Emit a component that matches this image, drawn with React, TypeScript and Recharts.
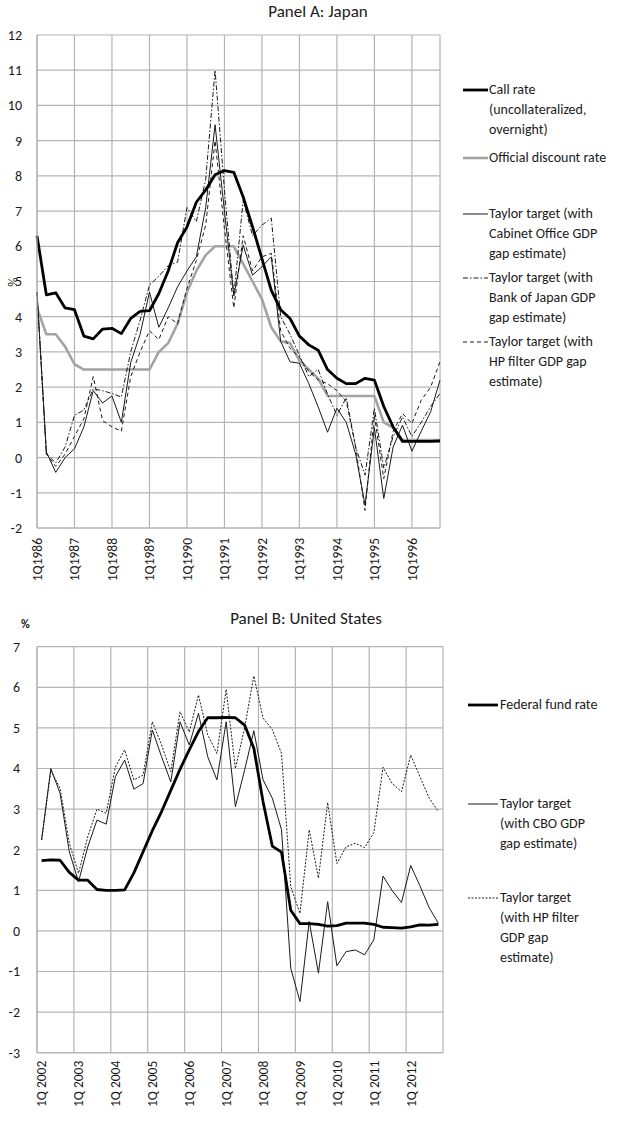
import { CartesianGrid, Line, LineChart, XAxis, YAxis } from "recharts";

// Panel A: Japan, quarterly 1Q1986 - 4Q1996
const jpYears = ["1986", "1987", "1988", "1989", "1990", "1991", "1992", "1993", "1994", "1995", "1996"];
const jpValueTicks = [-2, -1, 0, 1, 2, 3, 4, 5, 6, 7, 8, 9, 10, 11, 12];

const jpCallRate = [
  6.3, 4.62, 4.68, 4.25, 4.2, 3.45, 3.37, 3.65, 3.67, 3.52,
  3.95, 4.15, 4.17, 4.66, 5.3, 6.1, 6.55, 7.25, 7.6, 8.03,
  8.15, 8.1, 7.4, 6.55, 5.65, 4.75, 4.2, 3.95, 3.45, 3.2,
  3.05, 2.5, 2.25, 2.1, 2.1, 2.25, 2.2, 1.45, 0.87, 0.46,
  0.46, 0.46, 0.46, 0.47,
];
const jpDiscountRate = [
  4.25, 3.5, 3.5, 3.15, 2.65, 2.5, 2.5, 2.5, 2.5, 2.5,
  2.5, 2.5, 2.5, 3.0, 3.25, 3.8, 4.7, 5.3, 5.75, 6.0,
  6.0, 6.0, 5.5, 5.0, 4.5, 3.7, 3.3, 3.25, 2.75, 2.5,
  2.25, 1.75, 1.75, 1.75, 1.75, 1.75, 1.75, 1.0, 0.85, 0.5,
  0.5, 0.5, 0.5, 0.5,
];
const jpTaylorCabinet = [
  4.7, 0.16, -0.42, 0.0, 0.25, 0.87, 1.9, 1.55, 1.75, 1.0,
  2.7, 3.5, 4.7, 3.7, 4.25, 4.85, 5.3, 5.7, 7.1, 9.45,
  7.0, 4.6, 6.03, 5.18, 5.42, 5.7, 3.3, 2.72, 2.68, 2.1,
  1.44, 0.72, 1.4, 1.0, 0.1, -1.35, 0.85, -1.16, 0.3, 0.92,
  0.18, 0.75, 1.3, 2.2,
];
const jpTaylorBoj = [
  4.7, 0.1, -0.15, 0.3, 1.2, 1.35, 1.95, 1.9, 1.82, 1.72,
  3.0, 3.9, 4.9, 5.15, 5.45, 5.55, 7.1, 6.7, 7.9, 11.0,
  7.6, 4.6, 7.3, 6.3, 6.6, 6.8, 4.0, 3.5, 2.9, 2.3,
  2.5, 1.8, 1.2, 1.7, 0.3, -0.5, 1.4, -0.3, 0.6, 1.15,
  0.6, 1.0, 1.45, 1.82,
];
const jpTaylorHp = [
  4.7, 0.1, -0.25, 0.1, 0.6, 1.1, 2.3, 1.05, 0.87, 0.75,
  2.3, 3.0, 3.6, 3.35, 4.0, 3.8, 4.8, 5.6, 6.6, 9.0,
  6.5, 4.25, 6.3, 5.3, 5.7, 5.8, 3.6, 3.1, 2.85, 2.45,
  2.2, 2.1, 1.9, 1.6, 0.3, -1.5, 1.2, -0.6, 0.75, 1.25,
  0.97, 1.63, 2.0, 2.72,
];

// Panel B: United States, quarterly 1Q2002 - 4Q2012
const usYears = ["2002", "2003", "2004", "2005", "2006", "2007", "2008", "2009", "2010", "2011", "2012"];
const usValueTicks = [-3, -2, -1, 0, 1, 2, 3, 4, 5, 6, 7];

const usFedFunds = [
  1.73, 1.75, 1.74, 1.44, 1.25, 1.25, 1.02, 1.0, 1.0, 1.01,
  1.43, 1.95, 2.47, 2.94, 3.46, 3.98, 4.46, 4.91, 5.25, 5.25,
  5.26, 5.25, 5.07, 4.5, 3.18, 2.09, 1.94, 0.51, 0.18, 0.18,
  0.16, 0.12, 0.13, 0.19, 0.19, 0.19, 0.16, 0.09, 0.08, 0.07,
  0.1, 0.15, 0.14, 0.16,
];
const usTaylorCbo = [
  2.24, 4.0, 3.39, 1.95, 1.21, 2.07, 2.73, 2.63, 3.8, 4.21,
  3.49, 3.63, 4.95, 4.29, 3.67, 5.15, 4.58, 5.36, 4.29, 3.72,
  5.15, 3.06, 3.96, 4.93, 3.72, 3.27, 2.49, -0.92, -1.74, 0.23,
  -1.04, 0.72, -0.86, -0.51, -0.47, -0.59, -0.22, 1.35, 0.99, 0.7,
  1.61, 1.11, 0.57, 0.19,
];
const usTaylorHp = [
  2.24, 3.95, 3.51, 2.16, 1.42, 2.32, 3.0, 2.9, 4.04, 4.46,
  3.72, 3.84, 5.15, 4.58, 3.92, 5.4, 4.9, 5.81, 4.83, 4.37,
  5.95, 4.0, 5.0, 6.28, 5.24, 4.96, 4.37, 1.09, 0.43, 2.49,
  1.3, 3.16, 1.66, 2.07, 2.16, 2.05, 2.42, 4.03, 3.63, 3.43,
  4.33, 3.8, 3.27, 2.94,
];

const FONT = "Carlito, Lato, 'Liberation Sans', sans-serif";
const GRID = "#b4b4b4";
const INK = "#1a1a1a";

const jpRows = jpCallRate.map((call, q) => ({
  q,
  call,
  discount: jpDiscountRate[q],
  cabinet: jpTaylorCabinet[q],
  boj: jpTaylorBoj[q],
  hp: jpTaylorHp[q],
}));

const usRows = usFedFunds.map((fed, q) => ({
  q,
  fed,
  cbo: usTaylorCbo[q],
  hp: usTaylorHp[q],
}));

const jpLabelTicks = jpYears.map((_, i) => i * 4);
const jpGridX = [...jpLabelTicks, jpRows.length - 1];
const usLabelTicks = usYears.map((_, i) => i * 4);
const usGridX = [...usYears.map((_, i) => i * 4 - 0.5), usRows.length - 0.5];

type SeriesStyle = {
  key: string;
  lines: string[];
  color: string;
  width: number;
  dash?: string;
  legendY: number;
};

// drawing order: last one ends up on top
const jpSeries: SeriesStyle[] = [
  { key: "discount", lines: ["Official discount rate"], color: "#a3a3a3", width: 2.6, legendY: 158 },
  { key: "cabinet", lines: ["Taylor target (with", "Cabinet Office GDP", "gap estimate)"], color: INK, width: 1, legendY: 214 },
  { key: "boj", lines: ["Taylor target (with", "Bank of Japan GDP", "gap estimate)"], color: INK, width: 1, dash: "5 2 1.5 2", legendY: 278 },
  { key: "hp", lines: ["Taylor target (with", "HP filter GDP gap", "estimate)"], color: INK, width: 1, dash: "4 3", legendY: 342 },
  { key: "call", lines: ["Call rate", "(uncollateralized,", "overnight)"], color: "#000", width: 2.8, legendY: 90 },
];

const usSeries: SeriesStyle[] = [
  { key: "cbo", lines: ["Taylor target", "(with CBO GDP", "gap estimate)"], color: INK, width: 1, legendY: 804 },
  { key: "hp", lines: ["Taylor target", "(with HP filter", "GDP gap", "estimate)"], color: INK, width: 1, dash: "2 1.5", legendY: 898 },
  { key: "fed", lines: ["Federal fund rate"], color: "#000", width: 2.8, legendY: 705 },
];

function RotatedTick({ x, y, payload, format }: any) {
  return (
    <text
      transform={`translate(${x},${y}) rotate(-90)`}
      textAnchor="end"
      dy="0.36em"
      fontSize={13.5}
      fontFamily={FONT}
      fill={INK}
    >
      {format(payload.value)}
    </text>
  );
}

function SideLegend({
  series,
  keyLeft,
  keyWidth,
  textLeft,
}: {
  series: SeriesStyle[];
  keyLeft: number;
  keyWidth: number;
  textLeft: number;
}) {
  const lineHeight = 20;
  return (
    <>
      {series.map((s) => (
        <div key={s.key} style={{ position: "absolute", left: 0, top: s.legendY - lineHeight / 2 }}>
          <svg
            width={keyWidth}
            height={lineHeight}
            style={{ position: "absolute", left: keyLeft, top: 0 }}
          >
            <line
              x1={0}
              x2={keyWidth}
              y1={lineHeight / 2}
              y2={lineHeight / 2}
              stroke={s.color}
              strokeWidth={s.width}
              strokeDasharray={s.dash}
            />
          </svg>
          <div
            style={{
              position: "absolute",
              left: textLeft,
              top: 0,
              fontSize: 14,
              lineHeight: `${lineHeight}px`,
              whiteSpace: "nowrap",
              color: INK,
            }}
          >
            {s.lines.map((l) => (
              <div key={l}>{l}</div>
            ))}
          </div>
        </div>
      ))}
    </>
  );
}

function Title({ text, cx, cy, size }: { text: string; cx: number; cy: number; size: number }) {
  return (
    <div
      style={{
        position: "absolute",
        left: cx - 150,
        top: cy - 11,
        width: 300,
        lineHeight: "22px",
        textAlign: "center",
        fontSize: size,
        color: INK,
      }}
    >
      {text}
    </div>
  );
}

export default function App() {
  const tickStyle = { fontSize: 14, fill: INK, fontFamily: FONT };
  return (
    <div
      style={{
        position: "absolute",
        left: 0,
        top: 0,
        width: 623,
        height: 1123,
        background: "#fff",
        fontFamily: FONT,
        overflow: "hidden",
      }}
    >
      <Title text="Panel A: Japan" cx={318} cy={12} size={17} />
      <div style={{ position: "absolute", left: 0, top: 0 }}>
        <LineChart
          width={623}
          height={600}
          data={jpRows}
          margin={{ top: 35, right: 183, bottom: 0, left: 0 }}
        >
          <CartesianGrid stroke={GRID} strokeWidth={1.2} verticalValues={jpGridX} />
          <XAxis
            type="number"
            dataKey="q"
            domain={[0, jpRows.length - 1]}
            ticks={jpLabelTicks}
            interval={0}
            height={72}
            tickSize={0}
            tickMargin={10}
            tickLine={false}
            axisLine={{ stroke: GRID, strokeWidth: 1.2 }}
            tick={(props: any) => (
              <RotatedTick {...props} format={(v: number) => `1Q${jpYears[v / 4]}`} />
            )}
          />
          <YAxis
            type="number"
            domain={[-2, 12]}
            ticks={jpValueTicks}
            interval={0}
            width={37}
            tickSize={0}
            tickMargin={15}
            tickLine={false}
            axisLine={{ stroke: GRID, strokeWidth: 1.2 }}
            tick={tickStyle}
          />
          {jpSeries.map((s) => (
            <Line
              key={s.key}
              type="linear"
              dataKey={s.key}
              stroke={s.color}
              strokeWidth={s.width}
              strokeDasharray={s.dash}
              strokeLinejoin="round"
              dot={false}
              activeDot={false}
              isAnimationActive={false}
            />
          ))}
        </LineChart>
      </div>
      <div
        style={{
          position: "absolute",
          left: 3,
          top: 272,
          width: 20,
          lineHeight: "20px",
          textAlign: "center",
          fontSize: 13,
          color: INK,
          transform: "rotate(-90deg)",
        }}
      >
        %
      </div>
      <SideLegend series={jpSeries} keyLeft={463} keyWidth={25} textLeft={489} />

      <Title text="Panel B: United States" cx={306} cy={619} size={17} />
      <div
        style={{
          position: "absolute",
          left: 21,
          top: 614,
          lineHeight: "20px",
          fontSize: 12,
          fontWeight: 700,
          color: INK,
        }}
      >
        %
      </div>
      <div style={{ position: "absolute", left: 0, top: 600 }}>
        <LineChart
          width={623}
          height={523}
          data={usRows}
          margin={{ top: 46.7, right: 180, bottom: 0, left: 0 }}
        >
          <CartesianGrid stroke={GRID} strokeWidth={1.2} verticalValues={usGridX} />
          <XAxis
            type="number"
            dataKey="q"
            domain={[-0.5, usRows.length - 0.5]}
            ticks={usLabelTicks}
            interval={0}
            height={70.3}
            tickSize={0}
            tickMargin={8}
            tickLine={false}
            axisLine={{ stroke: GRID, strokeWidth: 1.2 }}
            tick={(props: any) => (
              <RotatedTick {...props} format={(v: number) => `1Q ${usYears[v / 4]}`} />
            )}
          />
          <YAxis
            type="number"
            domain={[-3, 7]}
            ticks={usValueTicks}
            interval={0}
            width={37}
            tickSize={0}
            tickMargin={17}
            tickLine={false}
            axisLine={{ stroke: GRID, strokeWidth: 1.2 }}
            tick={tickStyle}
          />
          {usSeries.map((s) => (
            <Line
              key={s.key}
              type="linear"
              dataKey={s.key}
              stroke={s.color}
              strokeWidth={s.width}
              strokeDasharray={s.dash}
              strokeLinejoin="round"
              dot={false}
              activeDot={false}
              isAnimationActive={false}
            />
          ))}
        </LineChart>
      </div>
      <SideLegend series={usSeries} keyLeft={468} keyWidth={30} textLeft={500} />
    </div>
  );
}
